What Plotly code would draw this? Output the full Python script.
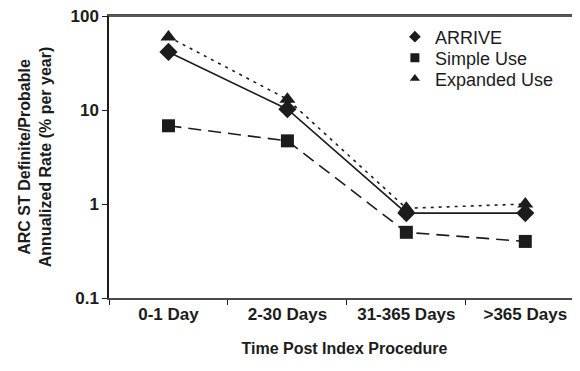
import plotly.graph_objects as go

categories = ["0-1 Day", "2-30 Days", "31-365 Days", ">365 Days"]
arrive = [41.5, 10.2, 0.80, 0.80]
simple_use = [6.8, 4.7, 0.50, 0.40]
expanded_use = [60, 13.0, 0.90, 1.0]
ytick_vals = [0.1, 1, 10, 100]
ytick_text = ["0.1", "1", "10", "100"]

C = "#1c1c1c"
FONT = "Liberation Sans, Arial, sans-serif"
fig = go.Figure()
fig.add_trace(go.Scatter(x=categories, y=expanded_use, mode="lines+markers",
                         line=dict(color=C, width=1.6, dash="3px,5px"),
                         marker=dict(symbol="triangle-up", size=14, color=C),
                         showlegend=False))
fig.add_trace(go.Scatter(x=categories, y=simple_use, mode="lines+markers",
                         line=dict(color=C, width=1.6, dash="13px,7px"),
                         marker=dict(symbol="square", size=13, color=C),
                         showlegend=False))
fig.add_trace(go.Scatter(x=categories, y=arrive, mode="lines+markers",
                         line=dict(color=C, width=1.6),
                         marker=dict(symbol="diamond", size=14, color=C),
                         showlegend=False))
legend_items = [("ARRIVE", "diamond", "legend"),
                ("Simple Use", "square", "legend2"),
                ("Expanded Use", "triangle-up", "legend3")]
for name, sym, lg in legend_items:
    fig.add_trace(go.Scatter(x=[None], y=[None], mode="markers", name=name, legend=lg,
                             marker=dict(symbol=sym, size=9, color=C)))

def leg(y):
    return dict(x=0.607, y=y, xanchor="left", yanchor="middle",
                font=dict(size=18, color=C), bgcolor="rgba(0,0,0,0)", itemwidth=30)

# page body has an 8px margin: figure is shifted by 8px, so compensate
fig.update_layout(
    width=572, height=363,
    margin=dict(l=101, r=0, t=8, b=73),
    paper_bgcolor="white", plot_bgcolor="white",
    font=dict(family=FONT, color=C),
    legend=leg(0.9255), legend2=leg(0.851), legend3=leg(0.777),
    xaxis=dict(type="category", range=[-0.5, 3.46], showgrid=False, automargin=False,
               showline=True, linecolor="#4a4a4a", linewidth=1.5, mirror=True,
               ticks="outside", tickson="boundaries", ticklen=5, tickcolor=C,
               tickfont=dict(size=17, weight="bold"),
               title=dict(text="<b>Time Post Index Procedure</b>", font=dict(size=16), standoff=20)),
    yaxis=dict(type="log", range=[-1, 2.0005], showgrid=False, zeroline=False, automargin=False,
               showline=True, linecolor=C, linewidth=1.5, ticklabeloverflow="allow",
               ticks="outside", ticklen=5, tickcolor=C,
               tickvals=ytick_vals, ticktext=ytick_text,
               tickfont=dict(size=17, weight="bold"),
               title=dict(text="<b>ARC ST Definite/Probable<br>Annualized Rate (% per year)</b>",
                          font=dict(size=16), standoff=15)),
    shapes=[dict(type="line", xref="paper", yref="paper", x0=0, x1=1.02, y0=1, y1=1,
                 layer="above", line=dict(color="#5a5a5a", width=2))],
)
fig.write_html("out.html")
